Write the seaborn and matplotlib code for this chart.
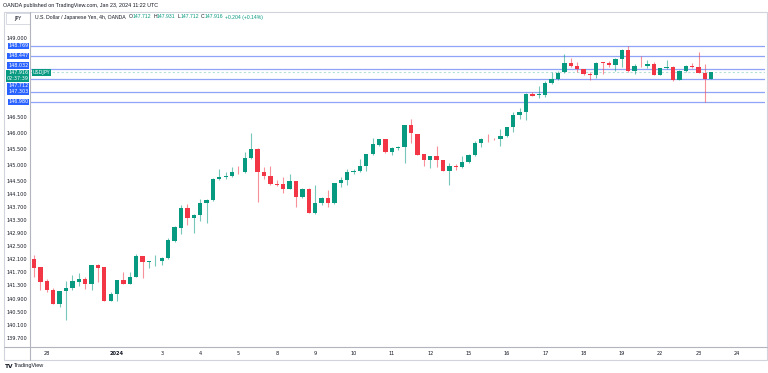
import pandas as pd
import matplotlib
matplotlib.use("Agg")
import matplotlib.pyplot as plt
from matplotlib.lines import Line2D
from matplotlib.patches import Rectangle
from matplotlib.ticker import FixedLocator, FixedFormatter, NullLocator
import seaborn as sns

# USD/JPY 4h candles, Dec 27 2023 -> Jan 23 2024
opens = [142.11, 141.85, 141.43, 141.17, 140.73, 141.14, 141.22, 141.41, 141.50, 141.33,
         141.92, 141.85, 140.84, 141.04, 141.45, 141.35, 141.55, 142.18, 142.00, 142.03,
         142.03, 142.14, 142.65, 143.05, 143.66, 143.35, 143.46, 143.81, 143.91, 144.57,
         144.63, 144.67, 144.79, 144.77, 145.22, 145.50, 144.77, 144.65, 144.41, 144.41,
         144.26, 144.49, 144.00, 144.27, 143.50, 143.81, 143.99, 143.81, 144.43, 144.55,
         144.78, 144.83, 144.96, 145.34, 145.63, 145.80, 145.40, 145.52, 145.57, 146.27,
         145.97, 145.34, 145.15, 145.28, 145.17, 144.82, 144.98, 144.94, 145.10, 145.30,
         145.69, 145.83, 145.82, 145.82, 145.91, 146.19, 146.56, 146.65, 147.24, 147.21,
         147.21, 147.57, 147.70, 147.92, 148.23, 148.13, 148.04, 147.87, 147.84, 148.24,
         148.21, 148.16, 148.35, 148.63, 147.96, 148.13, 148.12, 148.18, 147.84, 148.05,
         148.10, 147.67, 147.96, 148.13, 148.09, 147.91, 147.712]
highs = [142.21, 141.86, 141.48, 141.23, 141.14, 141.43, 141.62, 141.69, 141.56, 141.93,
         141.96, 141.85, 141.10, 141.45, 141.70, 141.70, 142.24, 142.19, 142.05, 142.22,
         142.15, 142.75, 143.12, 143.76, 143.78, 143.48, 143.95, 143.95, 144.59, 144.88,
         144.77, 144.93, 144.98, 145.40, 146.00, 145.53, 144.93, 144.96, 144.54, 144.64,
         144.72, 144.49, 144.29, 144.29, 144.37, 144.00, 144.23, 144.45, 144.64, 144.88,
         144.88, 145.19, 145.34, 145.86, 145.83, 145.81, 145.55, 145.60, 146.27, 146.43,
         145.97, 145.34, 145.29, 145.60, 145.17, 145.05, 145.03, 145.27, 145.34, 145.76,
         145.86, 145.97, 145.84, 146.14, 146.20, 146.66, 146.79, 147.26, 147.28, 147.47,
         147.65, 147.93, 147.96, 148.50, 148.37, 148.24, 148.04, 147.92, 148.26, 148.24,
         148.28, 148.37, 148.65, 148.769, 148.18, 148.447, 148.31, 148.26, 148.05, 148.31,
         148.12, 147.985, 148.15, 148.21, 148.56, 148.18, 147.931]
lows = [141.56, 141.17, 141.10, 140.72, 140.65, 140.24, 141.15, 141.27, 141.20, 141.15,
        141.41, 140.82, 140.82, 140.82, 141.34, 141.33, 141.54, 141.51, 141.84, 141.88,
        141.92, 142.10, 142.62, 142.86, 143.14, 142.91, 143.27, 143.22, 143.89, 144.54,
        144.57, 144.62, 144.72, 144.75, 145.19, 143.84, 144.57, 144.38, 144.36, 144.12,
        144.25, 143.71, 143.98, 143.50, 143.48, 143.77, 143.69, 143.79, 144.33, 144.39,
        144.72, 144.77, 144.81, 145.32, 145.59, 145.38, 145.32, 145.47, 145.05, 145.68,
        145.31, 144.98, 144.90, 144.93, 144.81, 144.39, 144.85, 144.92, 145.07, 145.27,
        145.57, 145.71, 145.79, 145.60, 145.89, 146.04, 146.43, 146.41, 147.16, 147.10,
        147.13, 147.55, 147.67, 147.89, 148.10, 147.92, 147.84, 147.66, 147.75, 147.86,
        148.10, 147.96, 148.08, 147.94, 147.86, 148.10, 148.05, 147.82, 147.82, 148.02,
        147.65, 147.66, 147.94, 148.05, 147.89, 146.98, 147.712]
closes = [141.84, 141.41, 141.15, 140.73, 141.14, 141.23, 141.43, 141.50, 141.33, 141.92,
          141.84, 140.83, 141.05, 141.45, 141.35, 141.56, 142.18, 142.00, 142.03, 142.04,
          142.14, 142.67, 143.07, 143.66, 143.35, 143.46, 143.81, 143.91, 144.57, 144.64,
          144.67, 144.77, 144.77, 145.22, 145.50, 144.77, 144.65, 144.40, 144.39, 144.26,
          144.49, 144.00, 144.27, 143.50, 143.81, 143.99, 143.81, 144.43, 144.55, 144.78,
          144.83, 144.96, 145.34, 145.65, 145.80, 145.40, 145.53, 145.57, 146.27, 145.99,
          145.32, 145.15, 145.28, 145.17, 144.82, 144.98, 144.94, 145.10, 145.31, 145.69,
          145.82, 145.81, 145.80, 145.91, 146.20, 146.56, 146.66, 147.24, 147.18, 147.23,
          147.59, 147.71, 147.91, 148.23, 148.13, 148.04, 147.87, 147.84, 148.23, 148.22,
          148.16, 148.35, 148.63, 147.96, 148.12, 148.11, 148.18, 147.84, 148.05, 148.10,
          147.67, 147.97, 148.13, 148.09, 147.91, 147.712, 147.916]

day_labels = ["28", "2024", "3", "4", "5", "8", "9", "10", "11", "12",
              "15", "16", "17", "18", "19", "22", "23", "24"]
day_pos = [2, 13, 20, 26, 32, 38, 44, 50, 56, 62, 68, 74, 80, 86, 92, 98, 104, 110]

price_ticks = [149.0, 146.5, 146.0, 145.5, 145.0, 144.5, 144.1, 143.7, 143.3,
               142.9, 142.5, 142.1, 141.7, 141.3, 140.9, 140.5, 140.1, 139.7]

levels = [148.769, 148.447, 148.032, 147.712, 147.303, 146.980]
last_price = 147.916
countdown = "02:37:39"

UP, DOWN = "#089981", "#F23645"
INK = "#131722"
LEVEL_LINE, LEVEL_TAG = "#8FA4F7", "#2962FF"
FRAME = "#D1D4DC"

sns.set_theme(style="white")
plt.rcParams["font.family"] = ["DejaVu Sans"]

W, H = 768, 373
fig = plt.figure(figsize=(W / 100, H / 100), dpi=100)
fig.patch.set_facecolor("white")


def fx(x):
    return x / W


def fy(y):
    return 1 - y / H


ax = fig.add_axes([fx(30), fy(347), (765 - 30) / W, (347 - 12) / H])

df = pd.DataFrame({"o": opens, "h": highs, "l": lows, "c": closes})
df["i"] = range(len(df))
df["col"] = [UP if c >= o else DOWN for o, c in zip(df.o, df.c)]
df["bot"] = df[["o", "c"]].min(axis=1)
df["size"] = (df.c - df.o).abs().clip(lower=0.02)

ax.vlines(df.i, df.l, df.h, colors=df.col, lw=0.8, alpha=0.55, zorder=2)
ax.bar(df.i, df["size"], bottom=df.bot, width=0.68, color=df.col, lw=0, zorder=3)

ax.set_yscale("log")
ax.set_ylim(139.44, 149.85)
ax.set_xlim(-0.63, 114.4)
ax.yaxis.set_major_locator(FixedLocator(price_ticks))
ax.yaxis.set_major_formatter(FixedFormatter([f"{p:.3f}" for p in price_ticks]))
ax.yaxis.set_minor_locator(NullLocator())
ax.set_xticks(day_pos)
ax.set_xticklabels(day_labels)
for lab in ax.get_xticklabels():
    if lab.get_text() == "2024":
        lab.set_fontweight("bold")
ax.tick_params(axis="y", length=0, pad=2.2, labelsize=3.6, labelcolor=INK)
ax.tick_params(axis="x", length=0, pad=3.0, labelsize=3.6, labelcolor=INK)
ax.set_xlabel("")
ax.set_ylabel("")
for s in ax.spines.values():
    s.set_visible(False)
ax.grid(False)

# horizontal levels + current price
for v in levels:
    ax.axhline(v, color=LEVEL_LINE, lw=0.9, zorder=1)
ax.axhline(last_price, color=UP, lw=0.8, alpha=0.3, ls=(0, (2, 2)), zorder=1)

# level tags on the price scale (some nudged to avoid overlap)
nudge = {148.032: 2.4, 147.712: -5.0}
ytr = ax.get_yaxis_transform()
for v in levels:
    ax.annotate(f"{v:.3f}", xy=(0, v), xycoords=ytr, xytext=(-1.2, nudge.get(v, 0)),
                textcoords="offset points", ha="right", va="center", fontsize=3.5,
                color="white", annotation_clip=False, zorder=6,
                bbox=dict(boxstyle="square,pad=0.12", fc=LEVEL_TAG, ec="none"))
ax.annotate(f"{last_price:.3f}\n{countdown}", xy=(0, last_price), xycoords=ytr,
            xytext=(-1.2, -2.4), textcoords="offset points", ha="right", va="center",
            fontsize=3.5, color="white", linespacing=1.15, annotation_clip=False, zorder=7,
            bbox=dict(boxstyle="square,pad=0.15", fc=UP, ec="none"))
ax.annotate("USDJPY", xy=(0, last_price), xycoords=ytr, xytext=(1.8, 0),
            textcoords="offset points", ha="left", va="center", fontsize=3.5,
            color="white", annotation_clip=False, zorder=7,
            bbox=dict(boxstyle="square,pad=0.2", fc=UP, ec="none"))

# frame of the chart pane
fig.add_artist(Rectangle((fx(4), fy(360)), (767 - 4) / W, (360 - 12) / H,
                         transform=fig.transFigure, fill=False, ec=FRAME, lw=0.8))
fig.add_artist(Line2D([fx(30), fx(30)], [fy(12), fy(360)], color="#B2B5BE", lw=0.8))
fig.add_artist(Line2D([fx(4), fx(767)], [fy(347), fy(347)], color="#B2B5BE", lw=0.8))

# currency box top-left
fig.add_artist(Rectangle((fx(6), fy(24)), 24 / W, 11 / H, transform=fig.transFigure,
                         fc="white", ec=FRAME, lw=0.6))
fig.text(fx(18), fy(18.5), "JPY", fontsize=3.5, color=INK, ha="center", va="center")

head_font = ["Liberation Sans", "DejaVu Sans"]
fig.text(fx(3), fy(6), "OANDA published on TradingView.com, Jan 23, 2024 11:22 UTC",
         fontsize=3.9, color=INK, ha="left", va="center", family=head_font)

renderer = fig.canvas.get_renderer()


def text_run(x, y, parts, size):
    for s, col, gap in parts:
        t = fig.text(fx(x), fy(y), s, fontsize=size, color=col, ha="left", va="center",
                     family=head_font)
        x += t.get_window_extent(renderer).width + gap


text_run(35, 17, [("U.S. Dollar / Japanese Yen, 4h, OANDA", INK, 3),
                  ("O", INK, 0), ("147.712", UP, 2),
                  ("H", INK, 0), ("147.931", UP, 2),
                  ("L", INK, 0), ("147.712", UP, 2),
                  ("C", INK, 0), ("147.916", UP, 2),
                  ("+0.204 (+0.14%)", UP, 0)], 3.7)

fig.text(fx(5), fy(366), "TV", fontsize=4.2, fontweight="bold", color=INK, ha="left", va="center")
fig.text(fx(14), fy(366), "TradingView", fontsize=4.0, color=INK, ha="left", va="center",
         family=head_font)

fig.savefig("out.png", dpi=100, facecolor="white")
